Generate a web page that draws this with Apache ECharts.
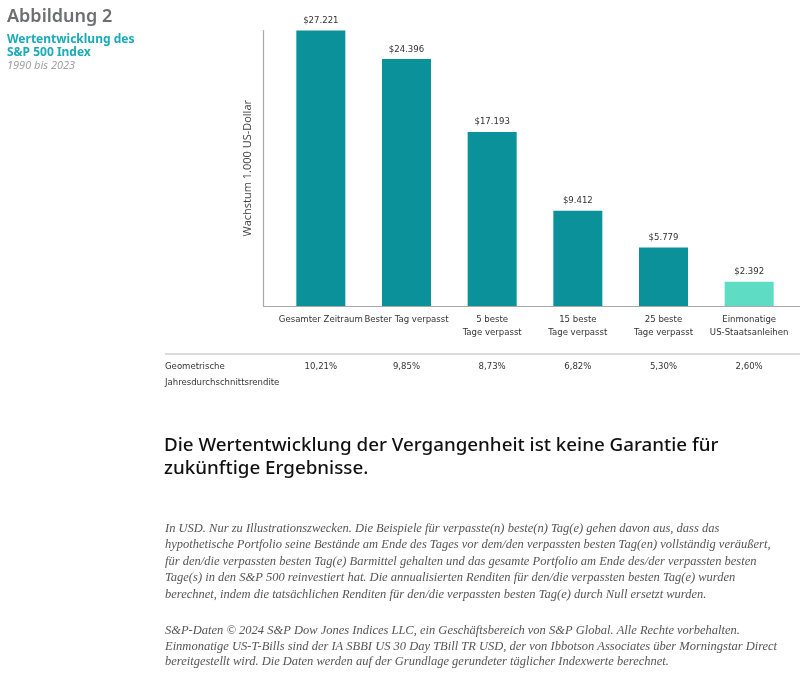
<!DOCTYPE html>
<html>
<head>
<meta charset="utf-8">
<script src="https://cdn.jsdelivr.net/npm/echarts@6/dist/echarts.min.js"></script>
<style>
html,body{margin:0;padding:0;background:#fff;}
#c{width:800px;height:674px;}
</style>
</head>
<body>
<div id="c"></div>
<script>
const categories = ['Gesamter Zeitraum', 'Bester Tag verpasst', '5 beste\nTage verpasst', '15 beste\nTage verpasst', '25 beste\nTage verpasst', 'Einmonatige\nUS-Staatsanleihen'];
const values = [27221, 24396, 17193, 9412, 5779, 2392];
const valueLabels = ['$27.221', '$24.396', '$17.193', '$9.412', '$5.779', '$2.392'];
const returns = ['10,21%', '9,85%', '8,73%', '6,82%', '5,30%', '2,60%'];
const footnote1 = [
 'In USD. Nur zu Illustrationszwecken. Die Beispiele für verpasste(n) beste(n) Tag(e) gehen davon aus, dass das',
 'hypothetische Portfolio seine Bestände am Ende des Tages vor dem/den verpassten besten Tag(en) vollständig veräußert,',
 'für den/die verpassten besten Tag(e) Barmittel gehalten und das gesamte Portfolio am Ende des/der verpassten besten',
 'Tage(s) in den S&P 500 reinvestiert hat. Die annualisierten Renditen für den/die verpassten besten Tag(e) wurden',
 'berechnet, indem die tatsächlichen Renditen für den/die verpassten besten Tag(e) durch Null ersetzt wurden.'
];
const footnote2 = [
 'S&P-Daten © 2024 S&P Dow Jones Indices LLC, ein Geschäftsbereich von S&P Global. Alle Rechte vorbehalten.',
 'Einmonatige US-T-Bills sind der IA SBBI US 30 Day TBill TR USD, der von Ibbotson Associates über Morningstar Direct',
 'bereitgestellt wird. Die Daten werden auf der Grundlage gerundeter täglicher Indexwerte berechnet.'
];

const narrow = '"DejaVu Sans Condensed","DejaVu Sans",sans-serif';
const chart = echarts.init(document.getElementById('c'), null, {renderer: 'canvas'});
const teal = '#0a9199', mint = '#5edcc4';
const cond = {fontStyle: 'normal', fontWeight: 'condensed', fontFamily: narrow};

chart.setOption({
  animation: false,
  backgroundColor: '#fff',
  grid: {left: 278, width: 514, top: 30.5, bottom: 368},
  xAxis: [{
    type: 'category', data: categories,
    axisLine: {lineStyle: {color: '#a8a8a8', width: 1.2}},
    axisTick: {show: false},
    axisLabel: Object.assign({color: '#333', fontSize: 9.5, lineHeight: 13, margin: 7, interval: 0}, cond)
  }, {
    type: 'category', data: returns, position: 'bottom', offset: 52,
    axisLine: {show: false}, axisTick: {show: false},
    axisLabel: Object.assign({color: '#333', fontSize: 9.5, margin: 4, interval: 0}, cond)
  }],
  yAxis: {
    type: 'value', min: 0, max: 27221, offset: 15,
    splitLine: {show: false}, axisTick: {show: false}, axisLabel: {show: false},
    axisLine: {show: true, lineStyle: {color: '#a8a8a8', width: 1.2}},
    name: 'Wachstum 1.000 US-Dollar', nameLocation: 'middle', nameGap: 10,
    nameTextStyle: {color: '#444', fontFamily: '"Open Sans",sans-serif', fontSize: 11}
  },
  series: [{
    type: 'bar', xAxisIndex: 0, barWidth: 49,
    data: values.map((v, i) => ({value: v, itemStyle: {color: i === values.length - 1 ? mint : teal}})),
    label: Object.assign({show: true, position: 'top', distance: 5, color: '#333', fontSize: 9.5,
      formatter: p => valueLabels[p.dataIndex]}, cond)
  }],
  graphic: [
    {type: 'line', shape: {x1: 263, y1: 306.5, x2: 800, y2: 306.5}, style: {stroke: '#a8a8a8', lineWidth: 1.2}, z: 10},
    {type: 'line', shape: {x1: 165, y1: 354, x2: 800, y2: 354}, style: {stroke: '#cfcfcf', lineWidth: 1.5}},
    {type: 'text', left: 165, top: 359, style: {text: 'Geometrische\nJahresdurchschnittsrendite', fill: '#333', font: 'normal condensed 9.5px ' + narrow, lineHeight: 16}},
    {type: 'text', left: 7, top: 8, style: {text: 'Abbildung 2', fill: '#6d6e71', font: '600 18px "Noto Sans",sans-serif'}},
    {type: 'text', left: 7, top: 33, style: {text: 'Wertentwicklung des\nS&P 500 Index', fill: '#1aaab8', font: 'bold 12px "Noto Sans",sans-serif', lineHeight: 13}},
    {type: 'text', left: 7, top: 60, style: {text: '1990 bis 2023', fill: '#a0a0a0', font: 'italic 11px "Noto Sans",sans-serif'}},
    {type: 'text', left: 164, top: 434, style: {text: 'Die Wertentwicklung der Vergangenheit ist keine Garantie für\nzukünftige Ergebnisse.', fill: '#111', font: '500 18.8px "Noto Sans",sans-serif', lineHeight: 23}},
    {type: 'text', left: 165, top: 520, style: {text: footnote1.join('\n'), fill: '#555', font: 'italic 12.5px "Liberation Serif",serif', lineHeight: 16.5}},
    {type: 'text', left: 165, top: 623, style: {text: footnote2.join('\n'), fill: '#555', font: 'italic 12.5px "Liberation Serif",serif', lineHeight: 15.5}}
  ]
});
</script>
</body>
</html>
